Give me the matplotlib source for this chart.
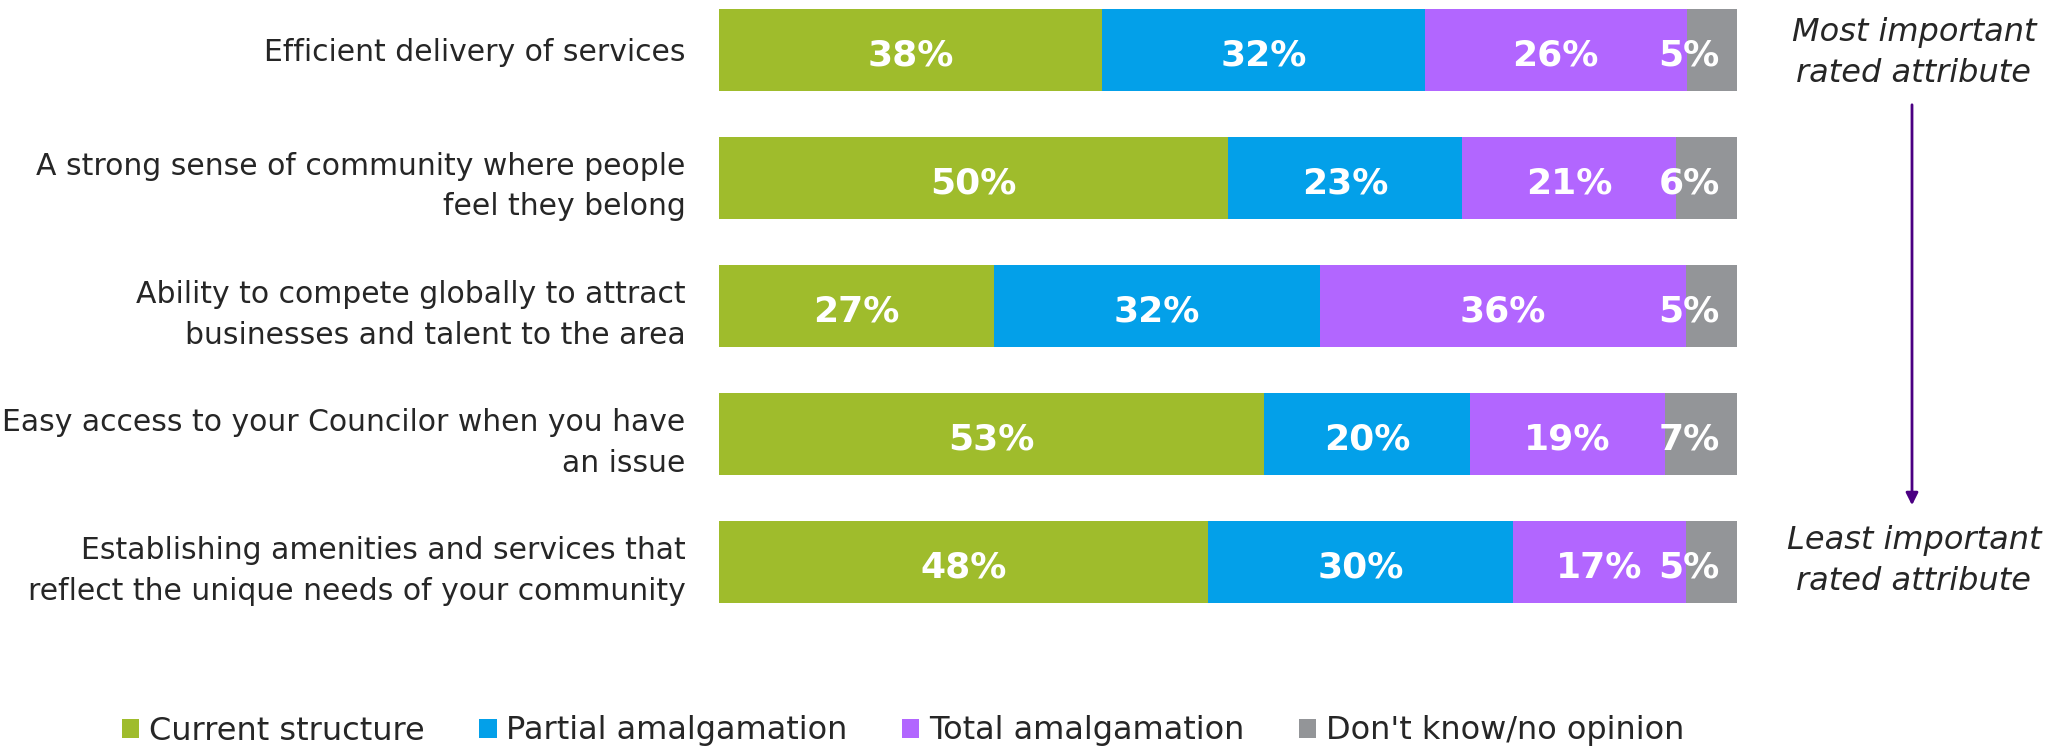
import numpy as np
import matplotlib.pyplot as plt

categories = [
    "Efficient delivery of services",
    "A strong sense of community where people\nfeel they belong",
    "Ability to compete globally to attract\nbusinesses and talent to the area",
    "Easy access to your Councilor when you have\nan issue",
    "Establishing amenities and services that\nreflect the unique needs of your community",
]
series = ["Current structure", "Partial amalgamation", "Total amalgamation", "Don't know/no opinion"]
current = [38, 50, 27, 53, 48]
partial = [32, 23, 32, 20, 30]
total = [26, 21, 36, 19, 17]
dont_know = [5, 6, 5, 7, 5]

colors = ["#9FBC2C", "#03A0E9", "#B266FF", "#939598"]

plt.rcParams['font.family'] = 'DejaVu Sans'
text_color = "#262626"

fig = plt.figure(figsize=(20.53, 7.5), dpi=100)
ax = fig.add_axes([719 / 2053, 1 - 603 / 750, (1737 - 719) / 2053, (603 - 9) / 750])

data = np.array([current, partial, total, dont_know], dtype=float)
shares = data / data.sum(axis=0) * 100
y = np.arange(len(categories))
left = np.zeros(len(categories))
for i, name in enumerate(series):
    ax.barh(y, shares[i], left=left, height=0.64, color=colors[i], label=name, linewidth=0)
    for j in range(len(categories)):
        if i == len(series) - 1:
            ax.text(98.3, y[j] + 0.04, f"{int(data[i, j])}%", ha='right', va='center',
                    color='white', fontsize=26, fontweight='bold')
        else:
            ax.text(left[j] + shares[i, j] / 2, y[j] + 0.04, f"{int(data[i, j])}%", ha='center', va='center',
                    color='white', fontsize=26, fontweight='bold')
    left += shares[i]

ax.set_xlim(0, 100)
ax.set_ylim(len(categories) - 1 + 0.32, -0.32)
ax.set_yticks(y)
ax.set_yticklabels(categories, fontsize=21.5, color=text_color, ha='right', linespacing=1.5)
ax.tick_params(axis='y', length=0, pad=24)
ax.set_xticks([])
for s in ax.spines.values():
    s.set_visible(False)

# importance arrow on the right
fig.text(1914 / 2053, 1 - 53 / 750, "Most important\nrated attribute", ha='center', va='center',
         fontsize=23, style='italic', color=text_color, linespacing=1.45)
fig.text(1914 / 2053, 1 - 561 / 750, "Least important\nrated attribute", ha='center', va='center',
         fontsize=23, style='italic', color=text_color, linespacing=1.45)
ax.annotate("", xy=(1912 / 2053, 1 - 508 / 750), xytext=(1912 / 2053, 1 - 102 / 750),
            xycoords='figure fraction', textcoords='figure fraction',
            arrowprops=dict(arrowstyle='-|>', color='#4B0082', lw=2, mutation_scale=18))

fig.legend(loc='center', bbox_to_anchor=(903 / 2053, 1 - 731 / 750), ncol=4, frameon=False,
           fontsize=23, handlelength=0.55, handleheight=0.55, handletextpad=0.3, columnspacing=1.7,
           labelcolor=text_color)

fig.savefig("out.png", dpi=100)
